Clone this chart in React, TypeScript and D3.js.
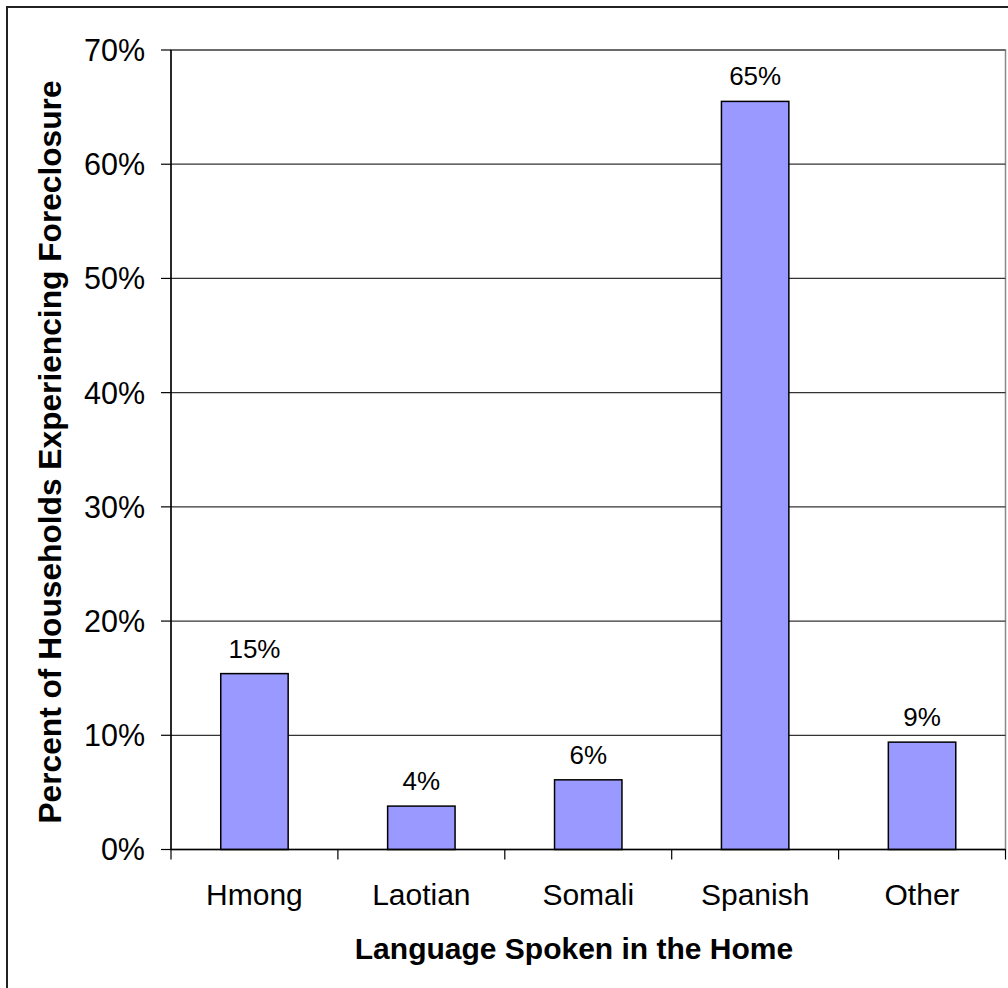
import React from "react";
import * as d3 from "d3";

const categories = ["Hmong", "Laotian", "Somali", "Spanish", "Other"];
const values = [15.4, 3.8, 6.1, 65.5, 9.4];
const valueLabels = ["15%", "4%", "6%", "65%", "9%"];
const yTicks = [0, 10, 20, 30, 40, 50, 60, 70];

const W = 1008;
const H = 988;
const left = 171;
const right = 1005.5;
const top = 50;
const bottom = 849.5;
const font = "Arial, 'Liberation Sans', sans-serif";

export default function App() {
  const x = d3.scaleBand<string>().domain(categories).range([left, right]).paddingInner(0).paddingOuter(0);
  const y = d3.scaleLinear().domain([0, 70]).range([bottom, top]);
  const bw = x.bandwidth() * 0.404;

  return (
    <svg width={W} height={H} style={{ position: "absolute", left: 0, top: 0, display: "block", background: "#fff" }}>
      <rect x={0} y={0} width={W} height={H} fill="#fff" />
      <rect x={7} y={7} width={1200} height={1200} fill="none" stroke="#222" strokeWidth={2} />
      {/* plot area border */}
      <rect x={left} y={top} width={right - left} height={bottom - top} fill="none" stroke="#888" strokeWidth={1.5} />
      {/* gridlines */}
      {yTicks.map((t) => (
        <line key={"g" + t} x1={left} x2={right} y1={y(t)} y2={y(t)} stroke="#333" strokeWidth={1.2} />
      ))}
      {/* bars */}
      {categories.map((c, i) => {
        const cx = (x(c) as number) + x.bandwidth() / 2;
        return (
          <rect key={c} x={cx - bw / 2} y={y(values[i])} width={bw} height={bottom - y(values[i])}
            fill="#9999FF" stroke="#000" strokeWidth={1.5} />
        );
      })}
      {/* value labels */}
      {categories.map((c, i) => {
        const cx = (x(c) as number) + x.bandwidth() / 2;
        return (
          <text key={"v" + c} x={cx} y={y(values[i]) - 16} textAnchor="middle" fontFamily={font} fontSize={26} fill="#000">
            {valueLabels[i]}
          </text>
        );
      })}
      {/* y axis */}
      <line x1={left} x2={left} y1={top} y2={bottom} stroke="#000" strokeWidth={1.5} />
      {yTicks.map((t) => (
        <g key={"t" + t}>
          <line x1={left - 10} x2={left} y1={y(t)} y2={y(t)} stroke="#000" strokeWidth={1.2} />
          <text x={145} y={y(t)} dy="0.36em" textAnchor="end" fontFamily={font} fontSize={30.5} fill="#000">
            {t + "%"}
          </text>
        </g>
      ))}
      {/* x axis */}
      <line x1={left} x2={right} y1={bottom} y2={bottom} stroke="#000" strokeWidth={1.5} />
      {categories.map((c) => (
        <line key={"xt" + c} x1={x(c) as number} x2={x(c) as number} y1={bottom} y2={bottom + 10} stroke="#000" strokeWidth={1.2} />
      ))}
      <line x1={right} x2={right} y1={bottom} y2={bottom + 10} stroke="#000" strokeWidth={1.2} />
      {categories.map((c) => (
        <text key={"xl" + c} x={(x(c) as number) + x.bandwidth() / 2} y={905} textAnchor="middle" fontFamily={font} fontSize={30} fill="#000">
          {c}
        </text>
      ))}
      {/* axis titles */}
      <text x={574} y={959} textAnchor="middle" fontFamily={font} fontSize={30} fontWeight="bold" fill="#000">
        Language Spoken in the Home
      </text>
      <text transform={`translate(61,452) rotate(-90)`} textAnchor="middle" fontFamily={font} fontSize={31.7} fontWeight="bold" fill="#000">
        Percent of Households Experiencing Foreclosure
      </text>
    </svg>
  );
}
